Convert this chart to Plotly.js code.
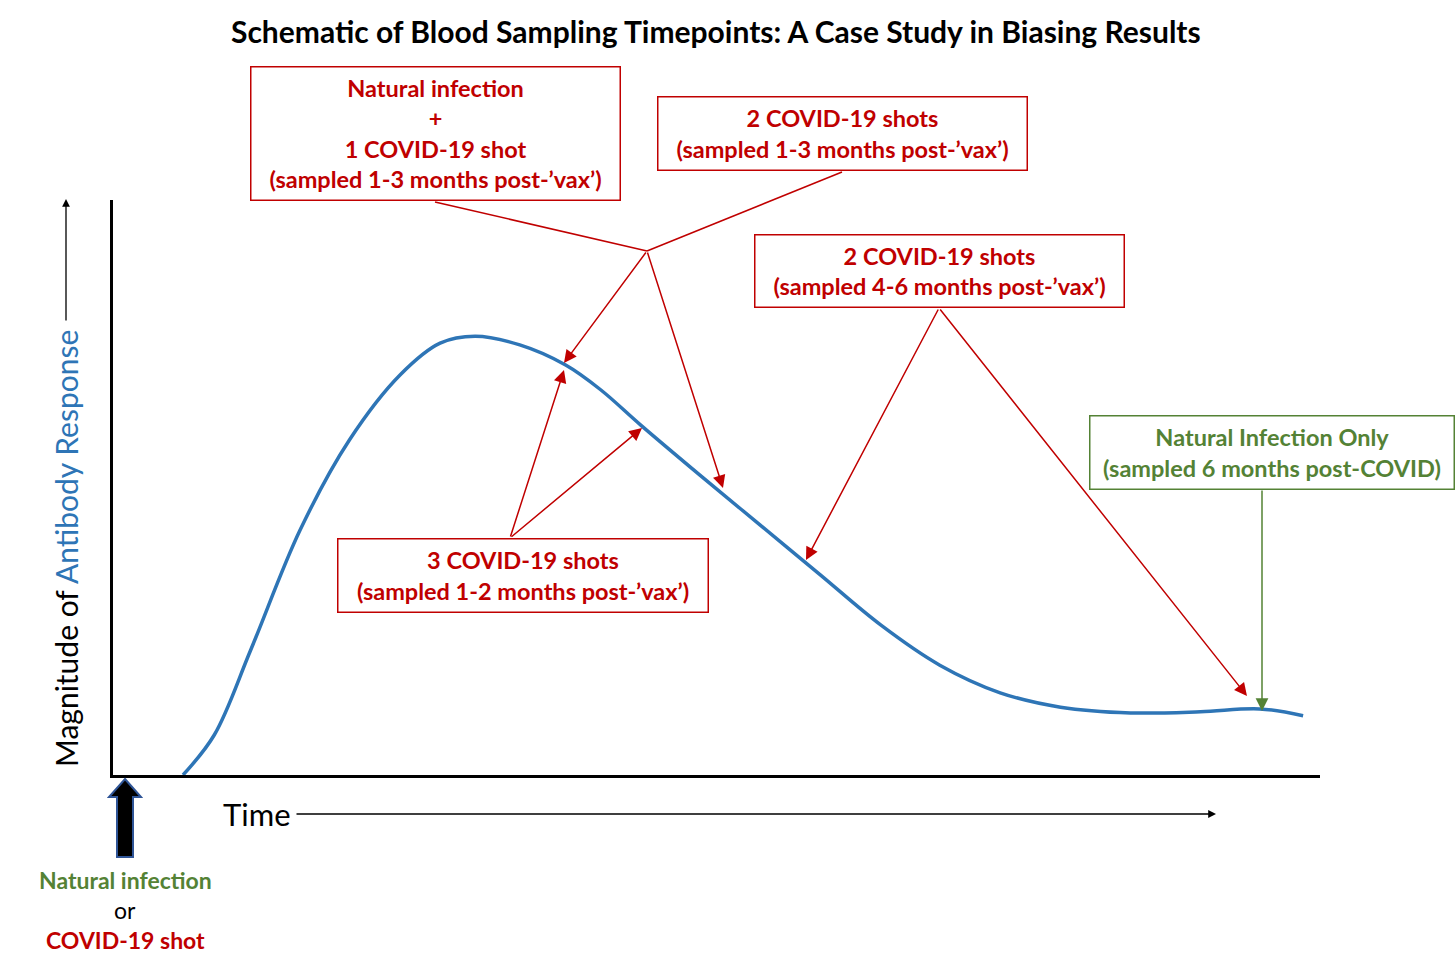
<!DOCTYPE html>
<html>
<head>
<meta charset="utf-8">
<script src="https://cdn.plot.ly/plotly-3.0.1.min.js"></script>
<style>html,body{margin:0;padding:0;background:#fff;}#chart{width:1456px;height:970px;}</style>
</head>
<body>
<div id="chart"></div>
<script>
// ---- Data (schematic antibody curve, arbitrary units) ----
const timePoints = [5.8, 8.4, 11.4, 15.5, 19.6, 23.8, 27.1, 30.0, 33.7, 37.5, 40.4, 43.7, 48.6, 53.6, 58.6, 63.6, 68.5, 73.5, 78.5, 84.3, 90.1, 95.0, 98.6];
const antibodyLevels = [0, 7.0, 21.7, 42.6, 58.3, 69.6, 75.1, 76.3, 74.8, 71.3, 67.0, 60.9, 52.2, 43.5, 34.8, 26.1, 19.1, 14.3, 11.8, 10.8, 11.0, 11.5, 10.3];

const titleText = 'Schematic of Blood Sampling Timepoints: A Case Study in Biasing Results';
const boxTexts = [
  'Natural infection<br>+<br>1 COVID-19 shot<br>(sampled 1-3 months post-’vax’)',
  '2 COVID-19 shots<br>(sampled 1-3 months post-’vax’)',
  '2 COVID-19 shots<br>(sampled 4-6 months post-’vax’)',
  '3 COVID-19 shots<br>(sampled 1-2 months post-’vax’)',
  'Natural Infection Only<br>(sampled 6 months post-COVID)'
];
const bottomLabels = ['Natural infection', 'or', 'COVID-19 shot'];
const yTitleParts = ['Magnitude of ', 'Antibody Response'];
const xTitleText = 'Time';

// ---- Styling ----
const RED = '#C00000', GREEN = '#548235', BLUE = '#2E75B6';
const FONT = 'Lato, "Open Sans", sans-serif';
const W = 1456, H = 970;
const M = {l: 113, r: 136, t: 200, b: 195};
const PW = W - M.l - M.r, PH = H - M.t - M.b;
const px = x => (x - M.l) / PW;          // pixel -> paper x
const py = y => (H - M.b - y) / PH;      // pixel -> paper y

const annotations = [];
const shapes = [];

// title
annotations.push({text: '<b>' + titleText + '</b>', xref: 'paper', yref: 'paper', x: px(716), y: py(31),
  showarrow: false, font: {family: FONT, size: 30, color: '#000'}, xanchor: 'center', yanchor: 'middle'});

// boxes: [centerX, centerY, w, h, color]
const boxGeom = [
  [435, 134, 370, 134, RED],
  [842, 134, 370, 74, RED],
  [939, 270.5, 370, 73, RED],
  [522.5, 575, 371, 74, RED],
  [1271.5, 452, 365, 74, GREEN]
];
boxTexts.forEach((t, i) => {
  const g = boxGeom[i];
  annotations.push({text: '<b>' + t + '</b>', xref: 'paper', yref: 'paper', x: px(g[0]), y: py(g[1]),
    xanchor: 'center', yanchor: 'middle', showarrow: false, width: g[2] - 2, height: g[3] - 2,
    bordercolor: g[4], borderwidth: 1.5, borderpad: 0, bgcolor: 'rgba(255,255,255,0)', align: 'center',
    valign: 'middle', font: {family: FONT, size: 23.5, color: g[4]}});
});

// connector lines (no heads)
const lines = [[435, 202, 647, 251], [842, 172, 647, 251]];
lines.forEach(l => shapes.push({type: 'line', xref: 'paper', yref: 'paper', x0: px(l[0]), y0: py(l[1]), x1: px(l[2]), y1: py(l[3]),
  line: {color: RED, width: 1.5}}));

// arrows: [tailX, tailY, headX, headY, color]
const arrows = [
  [647, 251, 564, 363, RED],
  [647, 251, 723, 488, RED],
  [510, 538, 564, 370, RED],
  [510, 538, 642, 428, RED],
  [939, 308, 806, 560, RED],
  [939, 308, 1247, 696, RED],
  [1262, 489, 1262, 711, GREEN]
];
arrows.forEach(a => annotations.push({text: '', xref: 'paper', yref: 'paper', x: px(a[2]), y: py(a[3]),
  ax: a[0] - a[2], ay: a[1] - a[3], axref: 'pixel', ayref: 'pixel', showarrow: true,
  arrowhead: 2, arrowsize: 1.7, arrowwidth: 1.5, arrowcolor: a[4], standoff: 0}));

// y-axis title (rotated) + arrow
annotations.push({text: yTitleParts[0] + '<span style="color:' + BLUE + '">' + yTitleParts[1] + '</span>',
  xref: 'paper', yref: 'paper', x: px(66), y: py(549), textangle: -90, showarrow: false,
  xanchor: 'center', yanchor: 'middle', font: {family: FONT, size: 30, color: '#000'}});
annotations.push({text: '', xref: 'paper', yref: 'paper', x: px(66), y: py(199), ax: 0, ay: 123,
  showarrow: true, arrowhead: 2, arrowsize: 1.2, arrowwidth: 1.3, arrowcolor: '#000', standoff: 0});

// x-axis title + arrow
annotations.push({text: xTitleText, xref: 'paper', yref: 'paper', x: px(221), y: py(814), showarrow: false,
  xanchor: 'left', yanchor: 'middle', font: {family: FONT, size: 31, color: '#000'}});
annotations.push({text: '', xref: 'paper', yref: 'paper', x: px(1216), y: py(814), ax: -921, ay: 0,
  showarrow: true, arrowhead: 2, arrowsize: 1.2, arrowwidth: 1.3, arrowcolor: '#000', standoff: 0});

// bottom labels
const bottomColors = [GREEN, '#000', RED];
const bottomY = [880, 910, 940];
bottomLabels.forEach((t, i) => annotations.push({text: i === 1 ? t : '<b>' + t + '</b>', xref: 'paper', yref: 'paper',
  x: px(125), y: py(bottomY[i]), showarrow: false, xanchor: 'center', yanchor: 'middle',
  font: {family: FONT, size: 23, color: bottomColors[i]}}));

// block arrow (start event)
const blk = [[125, 779], [141, 797], [133, 797], [133, 857], [117, 857], [117, 797], [109, 797]];
shapes.push({type: 'path', xref: 'paper', yref: 'paper',
  path: 'M' + blk.map(p => px(p[0]) + ',' + py(p[1])).join('L') + 'Z',
  fillcolor: '#000', line: {color: '#2F5597', width: 2}});

const trace = {x: timePoints, y: antibodyLevels, type: 'scatter', mode: 'lines',
  line: {color: BLUE, width: 3.5, shape: 'spline', smoothing: 1}, hoverinfo: 'skip', cliponaxis: false};

const layout = {
  width: W, height: H, margin: M, paper_bgcolor: '#fff', plot_bgcolor: '#fff', showlegend: false,
  xaxis: {range: [0, 100], showgrid: false, zeroline: false, showticklabels: false, ticks: '',
    showline: true, linecolor: '#000', linewidth: 3, fixedrange: true},
  yaxis: {range: [0, 100], showgrid: false, zeroline: false, showticklabels: false, ticks: '',
    showline: true, linecolor: '#000', linewidth: 3, fixedrange: true},
  annotations: annotations, shapes: shapes
};
Plotly.newPlot('chart', [trace], layout, {displayModeBar: false, staticPlot: true});
</script>
</body>
</html>
